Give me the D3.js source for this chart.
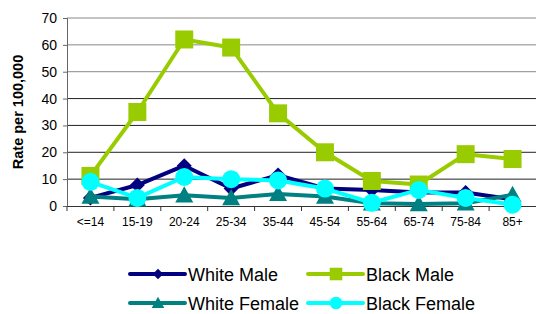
<!DOCTYPE html>
<html>
<head>
<meta charset="utf-8">
<script src="https://cdn.jsdelivr.net/npm/d3@7"></script>
<style>
  body { margin: 0; background: #fff; }
  svg { display: block; font-family: "Liberation Sans", Arial, sans-serif; }
</style>
</head>
<body>
<svg id="chart" width="536" height="314"></svg>
<script>
// age groups along the x axis
const ageGroups = ["<=14", "15-19", "20-24", "25-34", "35-44", "45-54", "55-64", "65-74", "75-84", "85+"]
const yTicks = [0, 10, 20, 30, 40, 50, 60, 70]

// rates per 100,000
const whiteMale   = [3, 7.8, 15, 6.5, 11.5, 6.5, 6, 5, 5, 2.5]
const blackMale   = [11.2, 35, 62, 59, 34.5, 20, 9.3, 8, 19.3, 17.5]
const whiteFemale = [3.5, 2.5, 4, 3, 4.5, 3.5, 1, 0.7, 1, 4.2]
const blackFemale = [9, 3, 10.8, 10, 9.5, 6.5, 1.2, 6, 3, 0.5]

const seriesList = [
    { name: "White Male", values: whiteMale, color: "#000080", shape: "diamond" },
    { name: "Black Male", values: blackMale, color: "#99CC00", shape: "square" },
    { name: "White Female", values: whiteFemale, color: "#008080", shape: "triangle" },
    { name: "Black Female", values: blackFemale, color: "#00FFFF", shape: "circle" },
]

const svg = d3.select("#chart")
const plotLeft = 67, plotRight = 536, plotTop = 18, plotBottom = 206

const x = d3.scaleBand().domain(ageGroups).range([plotLeft, plotRight])
const y = d3.scaleLinear().domain([0, 70]).range([plotBottom, plotTop])

// gridlines
svg.append("g")
    .selectAll("line")
    .data(yTicks.filter(d => d > 0))
    .join("line")
    .attr("x1", plotLeft).attr("x2", plotRight)
    .attr("y1", d => y(d)).attr("y2", d => y(d))
    .attr("stroke", d => d >= 50 ? "#888" : "#222")
    .attr("stroke-width", 1)

// y axis
const yAxis = svg.append("g")
    .attr("transform", `translate(${plotLeft},0)`)
    .call(d3.axisLeft(y).tickValues(yTicks).tickSize(4).tickPadding(6))
yAxis.select(".domain").attr("stroke", "#666")
yAxis.selectAll(".tick line").attr("stroke", "#666")
yAxis.selectAll("text").attr("font-size", 14).attr("fill", "#000")
    .attr("font-family", "Liberation Sans, Arial, sans-serif")

// x axis
const xAxis = svg.append("g")
    .attr("transform", `translate(0,${plotBottom})`)
    .call(d3.axisBottom(x).tickSize(0).tickPadding(11))
xAxis.select(".domain").attr("stroke", "#333")
xAxis.selectAll("text").attr("font-size", 12).attr("fill", "#000")
    .attr("font-family", "Liberation Sans, Arial, sans-serif")
// tick marks between categories
svg.append("g")
    .selectAll("line")
    .data(ageGroups)
    .join("line")
    .attr("x1", d => x(d)).attr("x2", d => x(d))
    .attr("y1", plotBottom).attr("y2", plotBottom + 5)
    .attr("stroke", "#333")

// y axis title
svg.append("text")
    .attr("transform", `translate(23,112) rotate(-90)`)
    .attr("text-anchor", "middle")
    .attr("font-size", 14.5)
    .attr("font-weight", "bold")
    .text("Rate per 100,000")

const markerPath = (shape, s) => {
    if (shape === "diamond") return `M0,${-s} L${s},0 L0,${s} L${-s},0 Z`
    if (shape === "square") return `M${-s},${-s} H${s} V${s} H${-s} Z`
    if (shape === "triangle") return `M0,${-s} L${s},${s * 0.8} L${-s},${s * 0.8} Z`
    return d3.arc()({ innerRadius: 0, outerRadius: s, startAngle: 0, endAngle: 2 * Math.PI })
}
const markerSize = { diamond: 7.5, square: 9, triangle: 9, circle: 9 }

const line = d3.line()
    .x((d, i) => x(ageGroups[i]) + x.bandwidth() / 2)
    .y(d => y(d))

seriesList.forEach(s => {
    const g = svg.append("g")
    g.append("path")
        .attr("d", line(s.values))
        .attr("fill", "none")
        .attr("stroke", s.color)
        .attr("stroke-width", 4)
        .attr("stroke-linejoin", "round")
    g.selectAll("path.mk")
        .data(s.values)
        .join("path")
        .attr("class", "mk")
        .attr("transform", (d, i) => `translate(${x(ageGroups[i]) + x.bandwidth() / 2},${y(d)})`)
        .attr("d", markerPath(s.shape, markerSize[s.shape]))
        .attr("fill", s.color)
})

// legend
const legendPos = [[130, 274], [308, 274], [130, 303], [308, 303]]
seriesList.forEach((s, i) => {
    const [lx, ly] = legendPos[i]
    const g = svg.append("g").attr("transform", `translate(${lx},${ly})`)
    g.append("line").attr("x1", 0).attr("x2", 55).attr("y1", 0).attr("y2", 0)
        .attr("stroke", s.color).attr("stroke-width", 4).attr("stroke-linecap", "round")
    g.append("path").attr("transform", "translate(28,0)")
        .attr("d", markerPath(s.shape, markerSize[s.shape] * 0.7))
        .attr("fill", s.color)
    g.append("text").attr("x", 58).attr("y", 7)
        .attr("font-size", 18)
        .text(s.name)
})
</script>
</body>
</html>
